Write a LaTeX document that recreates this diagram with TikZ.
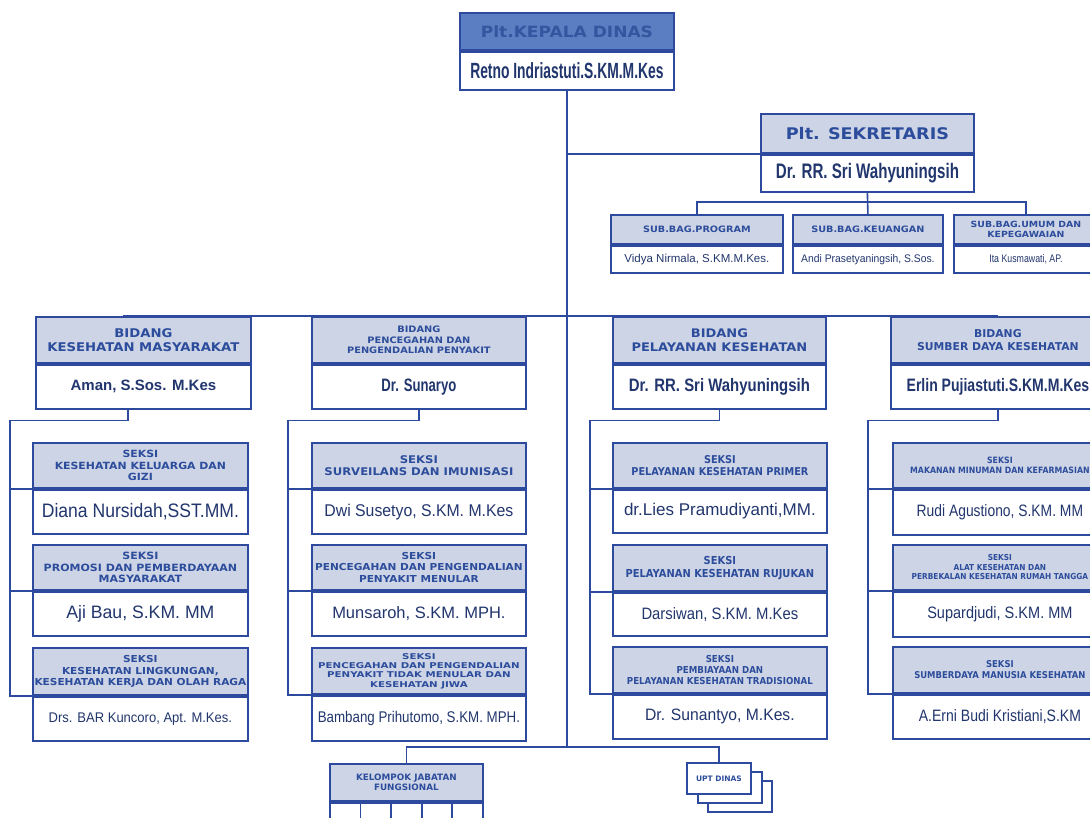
\documentclass[tikz,border=0pt]{standalone}
\usepackage{fontspec}
\setmainfont{Liberation Sans}
\newfontfamily\hdrf{DejaVu Sans}
\newfontfamily\namef{Liberation Sans}
\usetikzlibrary{positioning, calc}
\definecolor{lineblue}{HTML}{2E4A9E}
\definecolor{hdrfill}{HTML}{CDD4E5}
\definecolor{hdrtext}{HTML}{2C4C9C}
\definecolor{nametext}{HTML}{22366E}
\definecolor{topfill}{HTML}{5B7EC2}
\definecolor{toptext}{HTML}{34559F}
\newcommand{\hsz}[1]{\fontsize{#1}{1.17\dimexpr #1pt\relax}\selectfont}

\tikzset{
  hdr/.style 2 args={draw=lineblue, line width=1.8pt, fill=hdrfill, text=hdrtext, align=center,
    inner sep=0pt, anchor=north west, font=\hdrf\bfseries\hsz{#1}\addfontfeatures{FakeStretch=#2}},
  nm/.style 2 args={draw=lineblue, line width=1.8pt, fill=white, text=nametext, align=center,
    inner sep=0pt, anchor=north, font=\namef\bfseries\hsz{#1}\addfontfeatures{FakeStretch=#2}},
  sn/.style 2 args={draw=lineblue, line width=1.8pt, fill=white, text=nametext, align=center,
    inner sep=0pt, anchor=north, font=\namef\hsz{#1}\addfontfeatures{FakeStretch=#2}},
  conn/.style={draw=lineblue, line width=1.6pt},
  cell/.style={draw=lineblue, line width=1.8pt, fill=white, minimum width=30.6, minimum height=30, anchor=north west},
  uptbox/.style={draw=lineblue, line width=1.8pt, fill=white, minimum width=64, minimum height=31, anchor=north west}
}

\begin{document}
\begin{tikzpicture}[x=1pt, y=-1pt]
  \useasboundingbox[fill=white] (0,0) rectangle (1090,817);

  % kepala dinas
  \node[hdr={15.5}{1.1}, fill=topfill, text=toptext, minimum width=214, minimum height=37] (kd-h) at (459,12) {Plt.KEPALA DINAS};
  \node[nm={22}{0.63}, minimum width=214, minimum height=38] (kd) at (kd-h.south) {Retno Indriastuti.S.KM.M.Kes};

  % sekretaris
  \node[hdr={16}{1.1}, minimum width=213, minimum height=39] (sek-h) at (760,113) {Plt. SEKRETARIS};
  \node[nm={21}{0.72}, minimum width=213, minimum height=37] (sek) at (sek-h.south) {Dr. RR. Sri Wahyuningsih};

  % sub bagian
  \node[hdr={8.8}{1.1}, minimum width=172, minimum height=29] (sb1-h) at (610,214) {SUB.BAG.PROGRAM};
  \node[sn={11.5}{1.0}, minimum width=172, minimum height=27] (sb1) at (sb1-h.south) {Vidya Nirmala, S.KM.M.Kes.};
  \node[hdr={8.8}{1.1}, minimum width=150, minimum height=29] (sb2-h) at (792,214) {SUB.BAG.KEUANGAN};
  \node[sn={11}{0.94}, minimum width=150, minimum height=27] (sb2) at (sb2-h.south) {Andi Prasetyaningsih, S.Sos.};
  \node[hdr={8.5}{1.1}, minimum width=144, minimum height=29] (sb3-h) at (953,214) {SUB.BAG.UMUM DAN\\KEPEGAWAIAN};
  \node[sn={11}{0.8}, minimum width=144, minimum height=27] (sb3) at (sb3-h.south) {Ita Kusmawati, AP.};

  % bidang
  \node[hdr={12}{1.1}, minimum width=215, minimum height=46] (bd1-h) at (35,316) {BIDANG\\KESEHATAN MASYARAKAT};
  \node[nm={15}{1.0}, minimum width=215, minimum height=44] (bd1) at (bd1-h.south) {Aman, S.Sos. M.Kes};
  \node[hdr={8.9}{1.1}, minimum width=214, minimum height=46] (bd2-h) at (311,316) {BIDANG\\PENCEGAHAN DAN\\PENGENDALIAN PENYAKIT};
  \node[nm={18}{0.73}, minimum width=214, minimum height=44] (bd2) at (bd2-h.south) {Dr. Sunaryo};
  \node[hdr={11.8}{1.1}, minimum width=213, minimum height=46] (bd3-h) at (612,316) {BIDANG\\PELAYANAN KESEHATAN};
  \node[nm={18}{0.83}, minimum width=213, minimum height=44] (bd3) at (bd3-h.south) {Dr. RR. Sri Wahyuningsih};
  \node[hdr={10.8}{1.0}, minimum width=214, minimum height=46] (bd4-h) at (890,316) {BIDANG\\SUMBER DAYA KESEHATAN};
  \node[nm={18}{0.78}, minimum width=214, minimum height=44] (bd4) at (bd4-h.south) {Erlin Pujiastuti.S.KM.M.Kes};

  % seksi kesehatan masyarakat
  \node[hdr={9.9}{1.1}, minimum width=215, minimum height=45] (s11-h) at (32,442) {SEKSI\\KESEHATAN KELUARGA DAN\\GIZI};
  \node[sn={19.5}{0.9}, minimum width=215, minimum height=44] (s11) at (s11-h.south) {Diana Nursidah,SST.MM.};
  \node[hdr={10}{1.1}, minimum width=215, minimum height=45] (s12-h) at (32,544) {SEKSI\\PROMOSI DAN PEMBERDAYAAN\\MASYARAKAT};
  \node[sn={18}{0.98}, minimum width=215, minimum height=44] (s12) at (s12-h.south) {Aji Bau, S.KM. MM};
  \node[hdr={9.6}{1.1}, minimum width=215, minimum height=47] (s13-h) at (32,647) {SEKSI\\KESEHATAN LINGKUNGAN,\\KESEHATAN KERJA DAN OLAH RAGA};
  \node[sn={14}{0.93}, minimum width=215, minimum height=44] (s13) at (s13-h.south) {Drs. BAR Kuncoro, Apt. M.Kes.};

  % seksi pencegahan dan pengendalian penyakit
  \node[hdr={10.6}{1.1}, minimum width=214, minimum height=45] (s21-h) at (311,442) {SEKSI\\SURVEILANS DAN IMUNISASI};
  \node[sn={17}{0.93}, minimum width=214, minimum height=44] (s21) at (s21-h.south) {Dwi Susetyo, S.KM. M.Kes};
  \node[hdr={9.6}{1.1}, minimum width=214, minimum height=45] (s22-h) at (311,544) {SEKSI\\PENCEGAHAN DAN PENGENDALIAN\\PENYAKIT MENULAR};
  \node[sn={16.5}{1.0}, minimum width=214, minimum height=44] (s22) at (s22-h.south) {Munsaroh, S.KM. MPH.};
  \node[hdr={8}{1.28}, minimum width=214, minimum height=46] (s23-h) at (311,647) {SEKSI\\PENCEGAHAN DAN PENGENDALIAN\\PENYAKIT TIDAK MENULAR DAN\\KESEHATAN JIWA};
  \node[sn={15.5}{0.86}, minimum width=214, minimum height=45] (s23) at (s23-h.south) {Bambang Prihutomo, S.KM. MPH.};

  % seksi pelayanan kesehatan
  \node[hdr={10.8}{0.9}, minimum width=214, minimum height=45] (s31-h) at (612,442) {SEKSI\\PELAYANAN KESEHATAN PRIMER};
  \node[sn={17}{1.0}, minimum width=214, minimum height=43] (s31) at (s31-h.south) {dr.Lies Pramudiyanti,MM.};
  \node[hdr={11}{0.9}, minimum width=214, minimum height=46] (s32-h) at (612,544) {SEKSI\\PELAYANAN KESEHATAN RUJUKAN};
  \node[sn={16.5}{0.9}, minimum width=214, minimum height=43] (s32) at (s32-h.south) {Darsiwan, S.KM. M.Kes};
  \node[hdr={9.6}{0.9}, minimum width=214, minimum height=46] (s33-h) at (612,646) {SEKSI\\PEMBIAYAAN DAN\\PELAYANAN KESEHATAN TRADISIONAL};
  \node[sn={16.5}{0.95}, minimum width=214, minimum height=44] (s33) at (s33-h.south) {Dr. Sunantyo, M.Kes.};

  % seksi sumber daya kesehatan
  \node[hdr={8.7}{0.9}, minimum width=214, minimum height=45] (s41-h) at (892,442) {SEKSI\\MAKANAN MINUMAN DAN KEFARMASIAN};
  \node[sn={16.5}{0.84}, minimum width=214, minimum height=45] (s41) at (s41-h.south) {Rudi Agustiono, S.KM. MM};
  \node[hdr={8.2}{0.9}, minimum width=214, minimum height=45] (s42-h) at (892,544) {SEKSI\\ALAT KESEHATAN DAN\\PERBEKALAN KESEHATAN RUMAH TANGGA};
  \node[sn={16.5}{0.88}, minimum width=214, minimum height=45] (s42) at (s42-h.south) {Supardjudi, S.KM. MM};
  \node[hdr={9.4}{0.9}, minimum width=214, minimum height=46] (s43-h) at (892,646) {SEKSI\\SUMBERDAYA MANUSIA KESEHATAN};
  \node[sn={16.5}{0.85}, minimum width=214, minimum height=44] (s43) at (s43-h.south) {A.Erni Budi Kristiani,S.KM};

  % kelompok jabatan fungsional and upt
  \node[hdr={8.8}{1.0}, minimum width=153, minimum height=37] (kjf) at (329,763) {KELOMPOK JABATAN\\FUNGSIONAL};
  \foreach \i in {0,...,4}
    \node[cell] (kjf-\i) at ($(kjf.south west)+(\i*30.6,0)$) {};
  \node[uptbox] (upt-3) at (707,780) {};
  \node[uptbox] (upt-2) at (697,771) {};
  \node[uptbox, text=hdrtext, font=\hdrf\bfseries\hsz{7.5}] (upt) at (686,762) {UPT DINAS};

  % lines
  \coordinate (bt) at (kd.south |- 0,747);
  \coordinate (m1) at ($(bd1-h.north west)!0.405!(bd1-h.north east)$ |- 0,290);
  \draw[conn] (kd.south) -- (bt);
  \draw[conn] (sek-h.south west) -- (sek-h.south west -| kd.south);
  \draw[conn] (sek.south) -- (sb2-h.north);
  \draw[conn] (sb1-h.north) |- (sb3-h.north |- 0,202) -- (sb3-h.north);
  \draw[conn] (m1 |- bd1-h.north) -- (m1) -- (bd4-h.north |- m1) -- (bd4-h.north);
  \foreach \c in {2,3}
    \draw[conn] (bd\c-h.north |- m1) -- (bd\c-h.north);
  \foreach \c/\x/\f in {1/10/0.43, 2/288/0.5, 3/590/0.5, 4/868/0.5} {
    \draw[conn] ($(bd\c.south west)!\f!(bd\c.south east)$) -- ++(0,11) -| (s\c3-h.south -| \x,0) -- (s\c3-h.south west);
    \draw[conn] (s\c1-h.south west) -- (s\c1-h.south west -| \x,0);
    \draw[conn] (s\c2-h.south west) -- (s\c2-h.south west -| \x,0);
  }
  \draw[conn] (kjf.north) |- (bt) -| (upt.north);
\end{tikzpicture}
\end{document}
